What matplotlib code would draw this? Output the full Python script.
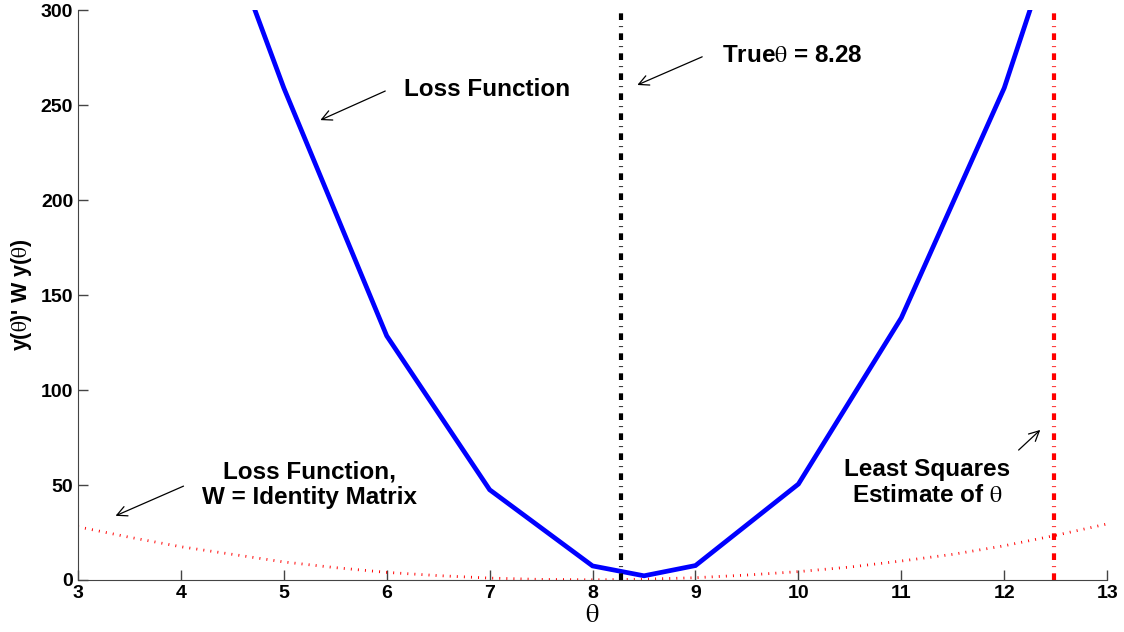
import numpy as np
import matplotlib
matplotlib.use('Agg')
import matplotlib.pyplot as plt

plt.rcParams['font.family'] = ['Liberation Sans', 'DejaVu Sans']
plt.rcParams['mathtext.fontset'] = 'stix'

# weighted loss function (blue)
theta_w = [4, 5, 6, 7, 8, 8.5, 9, 10, 11, 12, 13]
loss_w = [405, 259, 128.5, 47.5, 7.4, 2.2, 7.6, 50.5, 138, 259, 423]

# loss with W = identity (red dotted)
theta_i = [3, 3.5, 4, 4.5, 5, 5.5, 6, 6.5, 7, 7.5, 8, 8.5, 9, 9.5, 10, 10.5, 11, 11.5, 12, 12.5, 13]
loss_i = [28, 22.5, 17.5, 13.5, 9.5, 6.5, 4, 2.3, 1, 0.3, 0.1, 0.4, 1.2, 2.6, 4.4, 6.8, 10, 13.5, 18, 23.5, 29.5]

true_theta = 8.28
ls_theta = 12.48
vline_span = [0, 300]

TH = r'$\mathrm{\theta}$'

fig = plt.figure(figsize=(11.24, 6.32), dpi=100)
ax = fig.add_axes([0.0694, 0.0823, 0.9156, 0.9017])

ax.plot(theta_i, loss_i, color='red', lw=2.0, linestyle=(0, (0.35, 2.2)))
ax.plot(theta_w, loss_w, color='blue', lw=3.4, solid_joinstyle='miter')
dashdot = (0, (1.6, 1.5, 0.2, 1.5))
ax.plot([true_theta, true_theta], vline_span, color='black', lw=3, linestyle=dashdot)
ax.plot([ls_theta, ls_theta], vline_span, color='red', lw=3, linestyle=dashdot)

ax.set_xlim(3, 13)
ax.set_ylim(0, 300)
ax.set_xticks(range(3, 14))
ax.set_yticks([0, 50, 100, 150, 200, 250, 300])
ax.tick_params(direction='in', length=7, width=1, labelsize=14, color='#444444')
for lab in ax.get_xticklabels() + ax.get_yticklabels():
    lab.set_fontweight('bold')
ax.spines['top'].set_visible(False)
ax.spines['right'].set_visible(False)
ax.spines['left'].set_color('#444444')
ax.spines['bottom'].set_color('#444444')

ax.set_xlabel(TH, fontsize=19, labelpad=1)
ax.set_ylabel("y(" + TH + ")' W y(" + TH + ")", fontsize=15.5, fontweight='bold', labelpad=5)

arrow = dict(arrowstyle='->', color='black', lw=0.9, mutation_scale=18)
fs = 17.5

ax.text(6.17, 258, 'Loss Function', fontsize=fs, fontweight='bold', va='center', ha='left')
ax.annotate('', xy=(5.33, 241.5), xytext=(6.01, 258), arrowprops=arrow)

ax.text(9.26, 276, 'True' + TH + ' = 8.28', fontsize=fs, fontweight='bold', va='center', ha='left')
ax.annotate('', xy=(8.41, 260), xytext=(9.09, 276), arrowprops=arrow)

ax.text(5.25, 50, 'Loss Function,\nW = Identity Matrix', fontsize=fs, fontweight='bold',
        va='center', ha='center', linespacing=1.15)
ax.annotate('', xy=(3.34, 33.2), xytext=(4.05, 50), arrowprops=arrow)

ax.text(11.25, 51.5, 'Least Squares\nEstimate of ' + TH, fontsize=fs, fontweight='bold',
        va='center', ha='center', linespacing=1.15)
ax.annotate('', xy=(12.37, 80), xytext=(12.12, 67.4), arrowprops=arrow)

plt.savefig('out.png', dpi=100)
